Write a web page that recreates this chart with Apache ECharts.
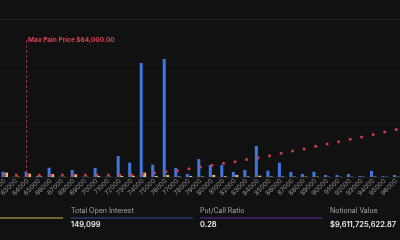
<!DOCTYPE html>
<html>
<head>
<meta charset="utf-8">
<script src="https://cdn.jsdelivr.net/npm/echarts@6/dist/echarts.min.js"></script>
<style>
  html, body { margin: 0; padding: 0; background: #111111; }
  #chart { width: 400px; height: 240px; }
</style>
</head>
<body>
<div id="chart"></div>
<script>
// strikes (x axis)
var strikes = ['62000', '63000', '64000', '65000', '66000', '67000', '68000', '69000', '70000', '71000',
  '72000', '73000', '74000', '75000', '76000', '77000', '78000', '79000', '80000', '81000',
  '82000', '83000', '84000', '85000', '86000', '87000', '88000', '89000', '90000', '91000',
  '92000', '93000', '94000', '95000', '96000'];
// open interest by strike
var callsOI = [200, 15, 200, 40, 355, 10, 265, 15, 340, 15,
  800, 545, 4330, 470, 4480, 340, 115, 680, 455, 455,
  190, 265, 1180, 240, 545, 190, 115, 200, 75, 75,
  115, 40, 230, 30, 75];
var putsOI = [165, 15, 125, 20, 115, 10, 100, 10, 40, 10,
  40, 50, 165, 40, 75, 20, 40, 20, 75, 30,
  75, 20, 50, 20, 20, 15, 15, 15, 10, 10,
  10, 10, 15, 10, 10];
// pain value by strike
var painValue = [40, 36, 30, 32, 34, 36, 38, 38, 40, 40,
  40, 42, 57, 82, 100, 120, 158, 190, 223, 260,
  290, 330, 365, 405, 450, 495, 530, 585, 625, 670,
  715, 760, 805, 855, 900];
var maxPainStrike = '64000';
var maxPainLabel = 'Max Pain Price $64,000.00';
var statLabels = ['Total Open Interest', 'Put/Call Ratio', 'Notional Value'];
var statValues = ['149,099', '0.28', '$9,611,725,622.87'];

var myChart = echarts.init(document.getElementById('chart'));
myChart.setOption({
  backgroundColor: '#111111',
  animation: false,
  textStyle: { fontFamily: 'Inter' },
  grid: { left: -1, top: 19, width: 403, bottom: 63, containLabel: false, outerBoundsMode: 'none' },
  xAxis: {
    type: 'category',
    data: strikes,
    axisLine: { lineStyle: { color: '#222222' } },
    axisTick: { show: false },
    axisLabel: { color: '#969696', fontSize: 6.5, rotate: 45, interval: 0, margin: 3 }
  },
  yAxis: [{
    type: 'value',
    min: 0,
    max: 6000,
    interval: 2000,
    axisLabel: { show: false },
    axisLine: { show: false },
    axisTick: { show: false },
    splitLine: { lineStyle: { color: ['#1a1a1a', '#181818', '#151515', '#232323'] } }
  }, {
    type: 'value',
    min: 0,
    max: 3000,
    show: false,
    splitLine: { show: false }
  }],
  series: [{
    name: 'Calls',
    type: 'bar',
    barWidth: 3,
    barGap: '15%',
    itemStyle: { color: '#3d78e0' },
    data: callsOI,
    markLine: {
      silent: true,
      symbol: 'none',
      lineStyle: { color: '#8a3340', type: [3, 2], width: 1 },
      label: { show: false },
      data: [[{ coord: [maxPainStrike, 5200] }, { coord: [maxPainStrike, 0] }]]
    },
    markPoint: {
      symbol: 'circle',
      symbolSize: 0,
      label: {
        show: true,
        position: 'right',
        distance: 2,
        formatter: maxPainLabel,
        color: '#de4352',
        fontSize: 6.5,
        fontWeight: 'bold'
      },
      data: [{ coord: [maxPainStrike, 5200] }]
    }
  }, {
    name: 'Puts',
    type: 'bar',
    barWidth: 3,
    itemStyle: { color: '#e6c35c' },
    data: putsOI
  }, {
    name: 'Pain',
    type: 'line',
    yAxisIndex: 1,
    symbol: 'circle',
    symbolSize: 3,
    showSymbol: true,
    lineStyle: { width: 0, opacity: 0 },
    itemStyle: { color: '#c8404f', borderWidth: 0 },
    data: painValue,
    z: 5
  }],
  graphic: [
    { type: 'line', shape: { x1: 0, y1: 218, x2: 63, y2: 218 }, style: { stroke: '#d8b850', lineWidth: 1.2 } },
    { type: 'line', shape: { x1: 71, y1: 218, x2: 193, y2: 218 }, style: { stroke: '#2e4fa8', lineWidth: 1.2 } },
    { type: 'line', shape: { x1: 200, y1: 218, x2: 322, y2: 218 }, style: { stroke: '#5a2ea8', lineWidth: 1.2 } },
    { type: 'text', left: 71, top: 207, style: { text: statLabels[0], fill: '#a8a8a8', font: '7px Inter' } },
    { type: 'text', left: 200, top: 207, style: { text: statLabels[1], fill: '#a8a8a8', font: '7px Inter' } },
    { type: 'text', left: 330, top: 207, style: { text: statLabels[2], fill: '#a8a8a8', font: '7px Inter' } },
    { type: 'text', left: 71, top: 221, style: { text: statValues[0], fill: '#eeeeee', font: '600 7.5px Inter' } },
    { type: 'text', left: 200, top: 221, style: { text: statValues[1], fill: '#eeeeee', font: '600 7.5px Inter' } },
    { type: 'text', left: 330, top: 221, style: { text: statValues[2], fill: '#eeeeee', font: '600 7.5px Inter' } }
  ]
});
</script>
</body>
</html>
